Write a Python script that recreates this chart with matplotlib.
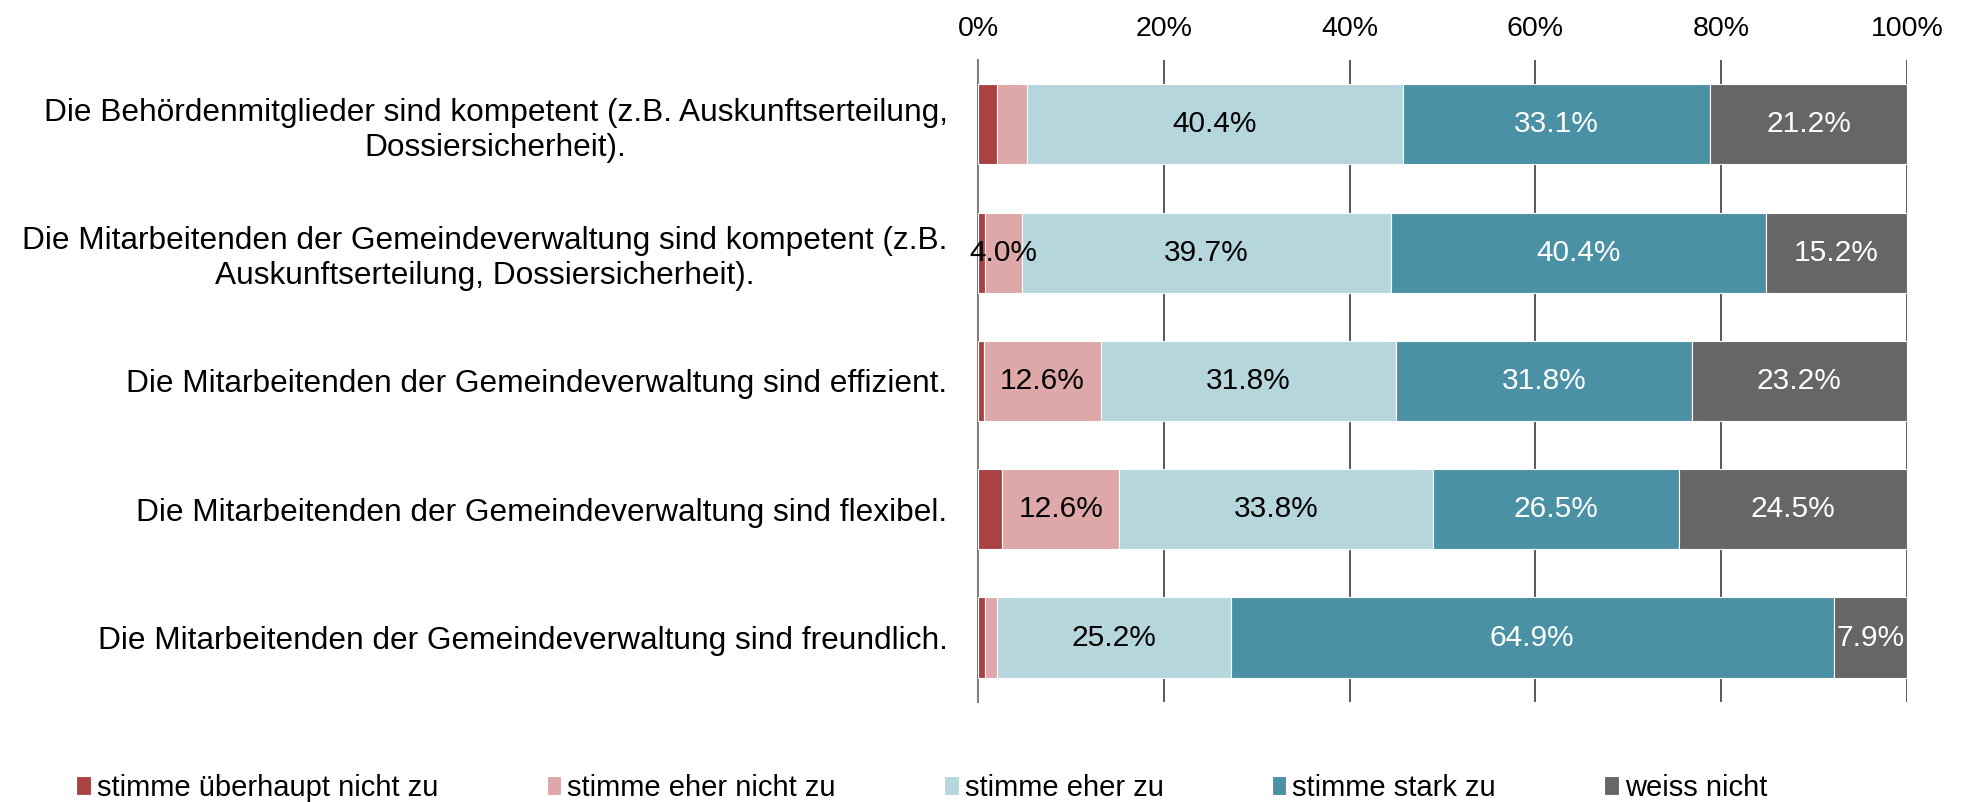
import numpy as np
import matplotlib.pyplot as plt

plt.rcParams['font.family'] = ['Liberation Sans', 'DejaVu Sans']

statements = [
    'Die Behördenmitglieder sind kompetent (z.B. Auskunftserteilung,\nDossiersicherheit).',
    'Die Mitarbeitenden der Gemeindeverwaltung sind kompetent (z.B.\nAuskunftserteilung, Dossiersicherheit).',
    'Die Mitarbeitenden der Gemeindeverwaltung sind effizient.',
    'Die Mitarbeitenden der Gemeindeverwaltung sind flexibel.',
    'Die Mitarbeitenden der Gemeindeverwaltung sind freundlich.',
]
answers = ['stimme überhaupt nicht zu', 'stimme eher nicht zu', 'stimme eher zu',
           'stimme stark zu', 'weiss nicht']

not_at_all = [2.0, 0.7, 0.6, 2.6, 0.7]
rather_not = [3.3, 4.0, 12.6, 12.6, 1.3]
rather_yes = [40.4, 39.7, 31.8, 33.8, 25.2]
strongly = [33.1, 40.4, 31.8, 26.5, 64.9]
dont_know = [21.2, 15.2, 23.2, 24.5, 7.9]

colors = ['#A94343', '#DEA7A8', '#B5D6DD', '#4A91A5', '#666666']
text_colors = ['black', 'black', 'black', 'white', 'white']

fig = plt.figure(figsize=(19.62, 8.02), dpi=100)
ax = fig.add_axes([0.4985, 0.125, 0.4735, 0.80])

series = [not_at_all, rather_not, rather_yes, strongly, dont_know]
y = np.arange(len(statements))
left = np.zeros(len(statements))
for vals, col, tcol, lab in zip(series, colors, text_colors, answers):
    vals = np.array(vals)
    ax.barh(y, vals, left=left, height=0.625, color=col, edgecolor='white',
            linewidth=0.8, label=lab, zorder=3)
    for yi, l, v in zip(y, left, vals):
        if v >= 4:
            ax.text(l + v / 2, yi, '{:.1f}%'.format(v), ha='center', va='center',
                    fontsize=21.5, color=tcol, zorder=4)
    left += vals

ax.set_xlim(0, 100)
ax.set_ylim(len(statements) - 0.5, -0.5)
ax.set_yticks(y)
ax.set_yticklabels(statements, fontsize=22.8, multialignment='center', linespacing=1.22)
ax.set_xticks(np.arange(0, 101, 20))
ax.set_xticklabels(['{}%'.format(v) for v in range(0, 101, 20)], fontsize=20.5)
ax.xaxis.tick_top()
ax.tick_params(axis='x', length=0, pad=13)
ax.tick_params(axis='y', length=0, pad=22)
ax.grid(axis='x', color='#595959', linewidth=1.4, zorder=0)
ax.set_axisbelow(True)
for s in ['top', 'right', 'bottom']:
    ax.spines[s].set_visible(False)
ax.spines['left'].set_color('#808080')
ax.spines['left'].set_linewidth(1.5)

fig.legend(loc='center left', bbox_to_anchor=(0.033, 0.018), ncol=5, frameon=False,
           fontsize=21, handlelength=0.5, handleheight=0.6, handletextpad=0.2,
           columnspacing=3.72, borderaxespad=0)

fig.savefig('out.png', dpi=100)
